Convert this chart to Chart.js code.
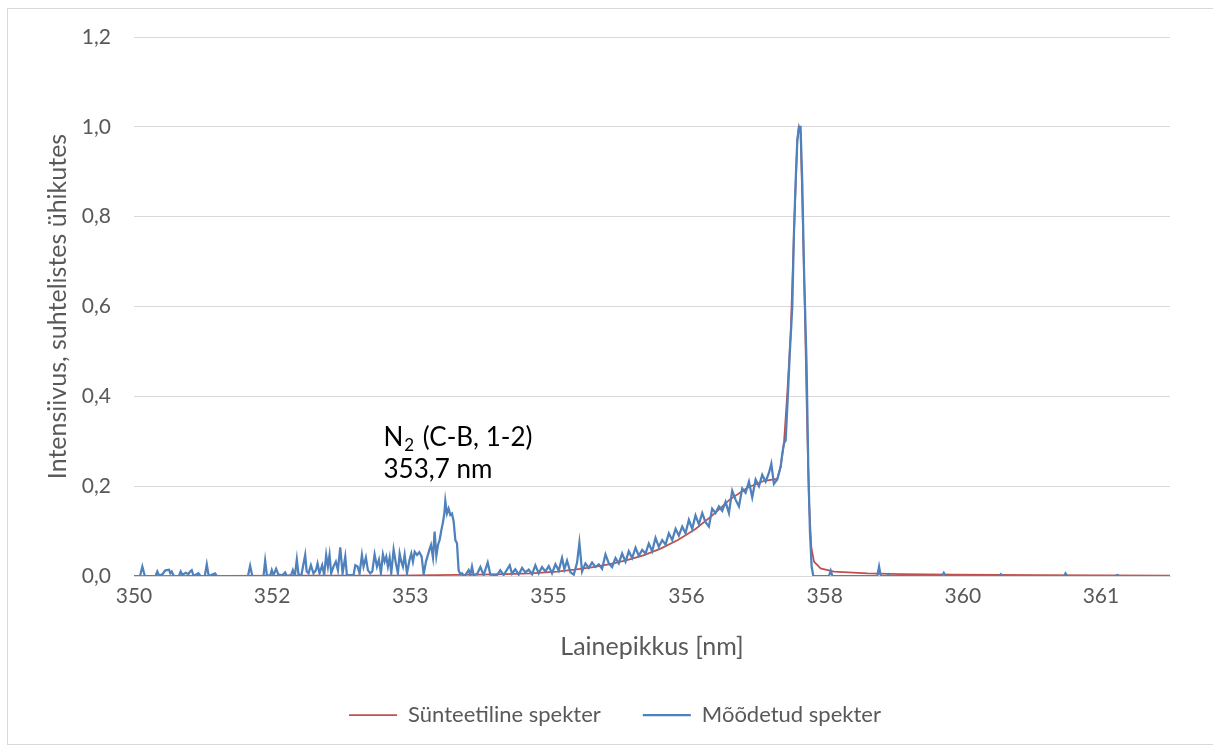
<!DOCTYPE html>
<html>
<head>
<meta charset="utf-8">
<script src="https://cdn.jsdelivr.net/npm/chart.js@4/dist/chart.umd.min.js"></script>
<style>
  html, body { margin: 0; padding: 0; background: #fff; }
  #wrap { width: 1213px; height: 751px; position: relative; }
</style>
</head>
<body>
<div id="wrap"><canvas id="spectrumChart"></canvas></div>
<script>
// --------------- data -----------------
// measured spectrum: wavelength [nm] and relative intensity
const measuredNm = [
  350.00, 350.07, 350.097, 350.125, 350.25, 350.27, 350.29, 350.33, 350.36, 350.38,
  350.406, 350.42, 350.437, 350.46, 350.52, 350.541, 350.56, 350.60, 350.63, 350.65,
  350.669, 350.69, 350.746, 350.77, 350.82, 350.843, 350.865, 350.939, 350.96, 351.32,
  351.345, 351.37, 351.50, 351.519, 351.54, 351.58, 351.596, 351.615, 351.646, 351.67,
  351.70, 351.72, 351.751, 351.77, 351.82, 351.840, 351.863, 351.886, 351.906, 351.94,
  351.964, 351.983, 352.000, 352.022, 352.049, 352.079, 352.107, 352.126, 352.149, 352.180,
  352.203, 352.226, 352.246, 352.265, 352.284, 352.311, 352.338, 352.362, 352.389, 352.416,
  352.447, 352.466, 352.543, 352.563, 352.590, 352.613, 352.640, 352.659, 352.686, 352.709,
  352.737, 352.760, 352.787, 352.814, 352.837, 352.860, 352.883, 352.903, 352.922, 352.941,
  352.961, 352.980, 353.007, 353.034, 353.057, 353.077, 353.096, 353.115, 353.135, 353.162,
  353.192, 353.212, 353.231, 353.251, 353.278, 353.305, 353.332, 353.355, 353.382, 353.421,
  353.440, 353.463, 353.482, 353.502, 353.521, 353.540, 353.560, 353.579, 353.595, 353.606,
  353.625, 353.644, 353.664, 353.683, 353.703, 353.722, 353.741, 353.760, 353.780, 353.799,
  353.820, 353.838, 353.876, 353.895, 353.915, 353.934, 353.973, 354.012, 354.050, 354.097,
  354.128, 354.205, 354.243, 354.282, 354.352, 354.379, 354.417, 354.456, 354.495, 354.533,
  354.572, 354.611, 354.649, 354.688, 354.726, 354.765, 354.804, 354.842, 354.881, 354.920,
  354.958, 354.985, 355.016, 355.055, 355.094, 355.132, 355.159, 355.190, 355.229, 355.268,
  355.306, 355.345, 355.384, 355.422, 355.461, 355.500, 355.538, 355.577, 355.615, 355.654,
  355.693, 355.731, 355.770, 355.809, 355.847, 355.886, 355.925, 355.963, 356.002, 356.041,
  356.079, 356.118, 356.157, 356.195, 356.234, 356.273, 356.311, 356.350, 356.388, 356.427,
  356.466, 356.504, 356.543, 356.582, 356.620, 356.659, 356.697, 356.736, 356.775, 356.813,
  356.852, 356.891, 356.929, 356.968, 357.007, 357.045, 357.084, 357.123, 357.161, 357.200,
  357.239, 357.277, 357.316, 357.355, 357.382, 357.412, 357.451, 357.490, 357.509, 357.528,
  357.548, 357.575, 357.598, 357.625, 357.644, 357.663, 357.683, 357.702, 357.721, 357.741,
  357.760, 357.791, 357.810, 357.830, 357.849, 357.868, 357.950, 358.050, 358.070, 358.090,
  358.610, 358.630, 358.650, 358.720, 358.740, 358.760, 359.360, 359.380, 359.400, 360.020,
  360.040, 360.060, 360.770, 360.790, 360.810, 361.370, 361.390, 361.410, 362.000
];
const measuredIntensity = [
  0, 0, 0.021, 0, 0, 0.010, 0.001, 0.004, 0.012, 0.013,
  0.014, 0.006, 0.010, 0, 0, 0.010, 0.003, 0.007, 0.004, 0.010,
  0.013, 0, 0.006, 0, 0, 0.026, 0, 0.006, 0, 0,
  0.023, 0, 0, 0.034, 0, 0.002, 0.013, 0.002, 0.016, 0.004,
  0.002, 0.002, 0.008, 0, 0.002, 0.013, 0, 0.037, 0.002, 0.003,
  0.028, 0.047, 0.010, 0.006, 0.024, 0.006, 0.013, 0.028, 0.006, 0.024,
  0.002, 0.047, 0.021, 0.047, 0.006, 0.021, 0.032, 0.013, 0.064, 0.006,
  0.043, 0.002, 0.002, 0.024, 0.021, 0.006, 0.047, 0.021, 0.041, 0.013,
  0.006, 0.010, 0.048, 0.021, 0.036, 0.006, 0.048, 0.032, 0.043, 0.021,
  0.041, 0.006, 0.059, 0.028, 0.006, 0.050, 0.032, 0.021, 0.047, 0.006,
  0.036, 0.050, 0.032, 0.054, 0.047, 0.053, 0.043, 0.004, 0.032, 0.058,
  0.069, 0.041, 0.099, 0.045, 0.069, 0.080, 0.102, 0.120, 0.140, 0.167,
  0.139, 0.150, 0.136, 0.139, 0.121, 0.080, 0.073, 0.013, 0.004, 0.006,
  0, 0.002, 0.013, 0.002, 0.021, 0.002, 0.004, 0.020, 0.002, 0.030,
  0.003, 0.002, 0.013, 0.002, 0.024, 0.005, 0.015, 0.003, 0.018, 0.008,
  0.014, 0.004, 0.024, 0.006, 0.020, 0.010, 0.022, 0.006, 0.026, 0.012,
  0.040, 0.015, 0.034, 0.008, 0.003, 0.030, 0.074, 0.010, 0.028, 0.018,
  0.030, 0.020, 0.026, 0.016, 0.048, 0.028, 0.020, 0.040, 0.028, 0.050,
  0.032, 0.055, 0.040, 0.063, 0.045, 0.058, 0.050, 0.072, 0.055, 0.085,
  0.065, 0.080, 0.070, 0.095, 0.080, 0.105, 0.090, 0.110, 0.095, 0.125,
  0.105, 0.135, 0.115, 0.140, 0.120, 0.110, 0.150, 0.140, 0.155, 0.145,
  0.165, 0.140, 0.190, 0.170, 0.155, 0.195, 0.185, 0.210, 0.175, 0.215,
  0.200, 0.225, 0.210, 0.230, 0.250, 0.205, 0.215, 0.243, 0.272, 0.295,
  0.302, 0.407, 0.503, 0.599, 0.762, 0.874, 0.970, 1.000, 1.000, 0.874,
  0.688, 0.466, 0.243, 0.095, 0.021, 0, 0, 0, 0.012, 0,
  0, 0.021, 0, 0, 0.004, 0, 0, 0.007, 0, 0,
  0.004, 0, 0, 0.006, 0, 0, 0.002, 0, 0
];

// synthetic spectrum
const syntheticNm = [
  350.0, 351.0, 352.0, 353.0, 353.5, 354.0, 354.3, 354.6, 354.9, 355.1,
  355.3, 355.5, 355.7, 355.9, 356.1, 356.3, 356.5, 356.7, 356.9, 357.1,
  357.3, 357.45, 357.49, 357.528, 357.567, 357.606, 357.644, 357.683, 357.702, 357.721,
  357.741, 357.768, 357.791, 357.818, 357.845, 357.876, 357.953, 358.108, 358.495, 358.88,
  359.5, 360.5, 362.0
];
const syntheticIntensity = [
  0, 0.0005, 0.001, 0.001, 0.002, 0.003, 0.004, 0.006, 0.010, 0.014,
  0.019, 0.026, 0.035, 0.046, 0.061, 0.080, 0.104, 0.135, 0.170, 0.196,
  0.212, 0.216, 0.243, 0.295, 0.406, 0.540, 0.762, 0.970, 1.000, 0.985,
  0.836, 0.614, 0.390, 0.169, 0.065, 0.032, 0.017, 0.010, 0.006, 0.004,
  0.003, 0.002, 0.001
];

const xTickValues = [350, 351.6, 353.2, 354.8, 356.4, 358.0, 359.6, 361.2];
const xMin = 350, xMax = 362;
const yTickValues = [0, 0.2, 0.4, 0.6, 0.8, 1.0, 1.2];

const seriesNames = ['Sünteetiline spekter', 'Mõõdetud spekter'];
const axisTitles = { x: 'Lainepikkus [nm]', y: 'Intensiivus, suhtelistes ühikutes' };
const bandLabel = { nm: 352.89, intensity: 0.309, line1: ['N', '2', ' (C-B, 1-2)'], line2: '353,7 nm' };

// --------------- helpers -----------------
function toPoints(xs, ys) {
  return xs.map((x, i) => ({ x: x, y: ys[i] }));
}

const FONT = 'Lato';
const TEXT_GRAY = '#595959';
const GRID_GRAY = '#D9D9D9';

// light frame round the whole chart, like an office chart object
const chartFrame = {
  id: 'chartFrame',
  beforeDraw(chart) {
    const ctx = chart.ctx;
    ctx.save();
    ctx.fillStyle = '#fff';
    ctx.fillRect(0, 0, chart.width, chart.height);
    ctx.strokeStyle = GRID_GRAY;
    ctx.lineWidth = 1;
    ctx.strokeRect(7.5, 8.5, chart.width + 20, 736);
    ctx.restore();
  }
};

// label for the N2 band, with subscript
const bandAnnotation = {
  id: 'bandAnnotation',
  afterDatasetsDraw(chart) {
    const { ctx, scales: { x, y } } = chart;
    let px = x.getPixelForValue(bandLabel.nm);
    const py = y.getPixelForValue(bandLabel.intensity);
    ctx.save();
    ctx.fillStyle = '#000';
    ctx.textBaseline = 'middle';
    ctx.textAlign = 'left';
    const big = '26px ' + FONT, small = '17px ' + FONT;
    ctx.font = big;
    ctx.fillText(bandLabel.line1[0], px, py);
    let cx = px + ctx.measureText(bandLabel.line1[0]).width;
    ctx.font = small;
    ctx.fillText(bandLabel.line1[1], cx + 1, py + 8);
    cx += ctx.measureText(bandLabel.line1[1]).width + 3;
    ctx.font = big;
    ctx.fillText(bandLabel.line1[2], cx, py);
    ctx.fillText(bandLabel.line2, px, py + 32);
    ctx.restore();
  }
};

// --------------- chart -----------------
const ctx = document.getElementById('spectrumChart');
const spectrumChart = new Chart(ctx, {
  type: 'line',
  data: {
    datasets: [
      {
        label: seriesNames[0],
        data: toPoints(syntheticNm, syntheticIntensity),
        borderColor: '#C0504D',
        backgroundColor: '#C0504D',
        borderWidth: 1.75,
        pointRadius: 0,
        tension: 0,
        order: 1
      },
      {
        label: seriesNames[1],
        data: toPoints(measuredNm, measuredIntensity),
        borderColor: '#4F81BD',
        backgroundColor: '#4F81BD',
        borderWidth: 2.25,
        pointRadius: 0,
        tension: 0,
        order: 0
      }
    ]
  },
  options: {
    responsive: true,
    maintainAspectRatio: false,
    animation: false,
    layout: { padding: { left: 60, top: 37, right: 43, bottom: 15 } },
    scales: {
      x: {
        type: 'linear',
        min: xMin,
        max: xMax,
        afterBuildTicks: (scale) => { scale.ticks = xTickValues.map(v => ({ value: v })); },
        afterFit: (scale) => { scale.height = 86; },
        ticks: {
          color: TEXT_GRAY,
          font: { family: FONT, size: 21 },
          padding: 8,
          maxRotation: 0,
          autoSkip: false,
          callback: (v) => String(Math.round(v))
        },
        grid: { display: false, drawTicks: false },
        border: { display: true, color: GRID_GRAY, width: 1 },
        title: {
          display: true,
          text: axisTitles.x,
          color: TEXT_GRAY,
          font: { family: FONT, size: 25 },
          padding: { top: 0, bottom: 0 }
        }
      },
      y: {
        min: 0,
        max: 1.2,
        afterBuildTicks: (scale) => { scale.ticks = yTickValues.map(v => ({ value: v })); },
        afterFit: (scale) => { scale.width = 74; },
        ticks: {
          color: TEXT_GRAY,
          font: { family: FONT, size: 21 },
          padding: 23,
          callback: (v) => v.toFixed(1).replace('.', ',')
        },
        grid: { color: GRID_GRAY, lineWidth: 1, drawTicks: false },
        border: { display: false },
        title: {
          display: true,
          text: axisTitles.y,
          color: TEXT_GRAY,
          font: { family: FONT, size: 25 },
          padding: { top: -17, bottom: 0 }
        }
      }
    },
    plugins: {
      legend: {
        position: 'bottom',
        labels: {
          color: TEXT_GRAY,
          font: { family: FONT, size: 22 },
          usePointStyle: true,
          pointStyle: 'line',
          pointStyleWidth: 48,
          padding: 42,
          sort: (a, b) => a.datasetIndex - b.datasetIndex
        }
      },
      tooltip: { enabled: false }
    }
  },
  plugins: [chartFrame, bandAnnotation]
});
</script>
</body>
</html>
